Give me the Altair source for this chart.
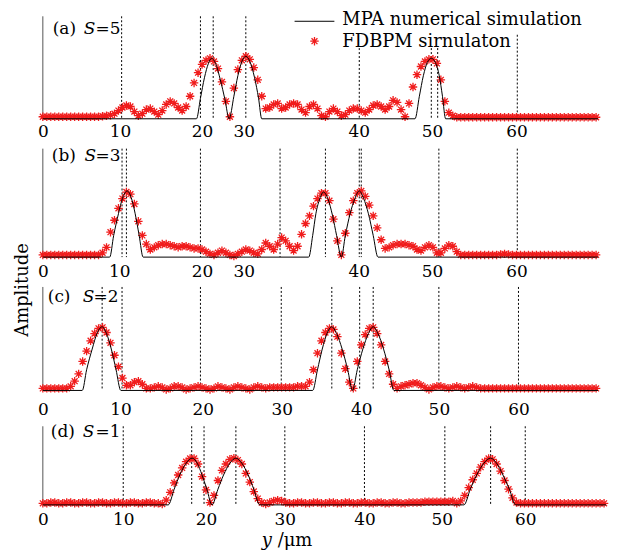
import altair as alt
import pandas as pd

FONT = "DejaVu Serif"
RED = "#f01c1c"
STAR = "M-1,0L1,0M0,-1L0,1M-0.7,-0.7L0.7,0.7M-0.7,0.7L0.7,-0.7"
STEP = 0.5  # sampling step of the FDBPM series (um)

TICK_LABELS = ["0", "10", "20", "30", "40", "50", "60"]

# ---------------- panel (a) S=5 ----------------
RED_A = [
    0.02, 0.02, 0.02, 0.02, 0.02, 0.02, 0.02, 0.02, 0.02, 0.02,
    0.02, 0.02, 0.02, 0.02, 0.02, 0.025, 0.03, 0.035, 0.05, 0.08,
    0.11, 0.13, 0.12, 0.07, 0.03, 0.05, 0.09, 0.10, 0.07, 0.04,
    0.08, 0.14, 0.17, 0.15, 0.11, 0.08, 0.12, 0.22, 0.35, 0.45,
    0.53, 0.57, 0.59, 0.56, 0.49, 0.36, 0.17, 0.02, 0.30, 0.48,
    0.57, 0.61, 0.58, 0.50, 0.38, 0.22, 0.10, 0.11, 0.14, 0.15,
    0.10, 0.11, 0.14, 0.15, 0.14, 0.09, 0.06, 0.12, 0.14, 0.10,
    0.03, 0.02, 0.07, 0.10, 0.07, 0.03, 0.04, 0.08, 0.10, 0.10,
    0.08, 0.06, 0.09, 0.13, 0.14, 0.12, 0.09, 0.12, 0.18, 0.16,
    0.09, 0.02, 0.15, 0.31, 0.43, 0.51, 0.56, 0.58, 0.58, 0.54,
    0.38, 0.17, 0.06, 0.03, 0.015, 0.015, 0.015, 0.015, 0.015, 0.015,
    0.015, 0.015, 0.015, 0.015, 0.015, 0.015, 0.015, 0.015, 0.015, 0.015,
    0.015, 0.015, 0.015, 0.015, 0.015, 0.015, 0.015, 0.015, 0.015, 0.015,
    0.015, 0.015, 0.015, 0.015, 0.015, 0.015, 0.015, 0.015, 0.015, 0.015,
]
BLACK_A_X = [0, 19.3, 19.8, 20.3, 20.8, 21.2, 21.7, 22.3, 22.9, 23.4, 24.0, 24.5, 25.0, 25.5,
             26.0, 26.6, 27.1, 27.5, 46.75, 47.3, 47.8, 48.3, 48.8, 49.3, 49.8, 50.2, 50.6, 69.75]
BLACK_A_Y = [0, 0, 0.2, 0.4, 0.54, 0.59, 0.54, 0.38, 0.18, 0, 0.22, 0.42, 0.56, 0.61,
             0.56, 0.40, 0.2, 0, 0, 0.22, 0.42, 0.55, 0.59, 0.55, 0.42, 0.22, 0, 0]
DASH_A_X = [9.9, 19.8, 21.4, 25.5, 39.75, 48.8, 49.6, 59.6]
DASH_A_TOP = [1, 1, 1, 1, 0.69, 0.69, 0.69, 0.82]
TICKS_A = [0, 9.7, 20, 25.25, 39.7, 48.9, 59.5]

# ---------------- panel (b) S=3 ----------------
RED_B = [
    0.02, 0.02, 0.02, 0.02, 0.02, 0.02, 0.02, 0.02, 0.02, 0.02,
    0.02, 0.02, 0.02, 0.02, 0.02, 0.04, 0.09, 0.23, 0.34, 0.45,
    0.54, 0.60, 0.58, 0.49, 0.33, 0.20, 0.12, 0.07, 0.09, 0.11,
    0.12, 0.12, 0.11, 0.10, 0.09, 0.10, 0.10, 0.09, 0.08, 0.08,
    0.07, 0.05, 0.03, 0.02, 0.04, 0.06, 0.04, 0.02, 0.01, 0.03,
    0.05, 0.07, 0.06, 0.04, 0.03, 0.07, 0.13, 0.10, 0.07, 0.12,
    0.18, 0.15, 0.10, 0.06, 0.10, 0.21, 0.31, 0.38, 0.47, 0.54,
    0.59, 0.59, 0.52, 0.35, 0.15, 0.02, 0.22, 0.41, 0.52, 0.59,
    0.61, 0.56, 0.48, 0.38, 0.27, 0.16, 0.08, 0.09, 0.11, 0.12,
    0.12, 0.12, 0.11, 0.10, 0.07, 0.06, 0.09, 0.11, 0.09, 0.04,
    0.04, 0.08, 0.11, 0.10, 0.05, 0.02, 0.02, 0.02, 0.02, 0.02,
    0.02, 0.02, 0.02, 0.02, 0.02, 0.025, 0.03, 0.025, 0.02, 0.02,
    0.02, 0.02, 0.02, 0.02, 0.02, 0.02, 0.02, 0.02, 0.02, 0.02,
    0.02, 0.02, 0.02, 0.02, 0.02, 0.02, 0.02, 0.02, 0.02, 0.02,
]
BLACK_B_X = [0, 8.4, 8.9, 9.5, 10.0, 10.6, 11.1, 11.6, 12.1, 12.6, 33.4, 33.9, 34.3, 34.8,
             35.25, 35.8, 36.4, 36.9, 37.5, 38.0, 38.6, 39.2, 39.75, 40.3, 40.9, 41.5, 42.1, 69.75]
BLACK_B_Y = [0, 0, 0.2, 0.4, 0.54, 0.61, 0.55, 0.4, 0.2, 0, 0, 0.2, 0.4, 0.54,
             0.6, 0.54, 0.38, 0.2, 0, 0.2, 0.4, 0.54, 0.61, 0.54, 0.4, 0.2, 0, 0]
DASH_B_X = [9.95, 10.5, 19.8, 29.8, 35.5, 39.75, 40.0, 49.75, 59.6]
DASH_B_TOP = [1, 1, 1, 1, 1, 1, 1, 1, 1]
TICKS_B = [0, 9.6, 20, 25.25, 39.7, 48.9, 59.5]

# ---------------- panel (c) S=2 ----------------
RED_C = [
    0.02, 0.02, 0.02, 0.02, 0.02, 0.02, 0.02, 0.04, 0.09, 0.16,
    0.28, 0.38, 0.48, 0.55, 0.60, 0.61, 0.56, 0.46, 0.34, 0.23,
    0.12, 0.05, 0.05, 0.08, 0.09, 0.06, 0.02, 0.02, 0.03, 0.04,
    0.03, 0.01, 0.02, 0.04, 0.04, 0.03, 0.01, 0.02, 0.03, 0.04,
    0.03, 0.02, 0.01, 0.02, 0.04, 0.03, 0.02, 0.01, 0.03, 0.04,
    0.03, 0.02, 0.01, 0.03, 0.04, 0.03, 0.02, 0.03, 0.03, 0.03,
    0.03, 0.03, 0.03, 0.03, 0.04, 0.04, 0.04, 0.08, 0.20, 0.36,
    0.48, 0.56, 0.60, 0.59, 0.52, 0.36, 0.21, 0.08, 0.02, 0.28,
    0.44, 0.54, 0.60, 0.61, 0.55, 0.44, 0.28, 0.16, 0.06, 0.02,
    0.04, 0.05, 0.06, 0.07, 0.07, 0.05, 0.03, 0.01, 0.03, 0.04,
    0.04, 0.03, 0.02, 0.03, 0.04, 0.03, 0.02, 0.03, 0.04, 0.03,
    0.02, 0.02, 0.02, 0.02, 0.02, 0.02, 0.02, 0.02, 0.02, 0.02,
    0.02, 0.02, 0.02, 0.02, 0.02, 0.02, 0.02, 0.02, 0.02, 0.02,
    0.02, 0.02, 0.02, 0.02, 0.02, 0.02, 0.02, 0.02, 0.02, 0.02,
]
BLACK_C_X = [0, 4.95, 5.5, 6.2, 6.8, 7.45, 8.0, 8.6, 9.2, 9.8, 33.9, 34.5, 35.1, 35.7,
             36.3, 36.9, 37.6, 38.3, 38.9, 39.5, 40.2, 40.9, 41.5, 42.1, 42.8, 43.5, 44.1, 69.75]
BLACK_C_Y = [0, 0, 0.2, 0.4, 0.55, 0.615, 0.55, 0.4, 0.2, 0, 0, 0.2, 0.4, 0.55,
             0.615, 0.55, 0.4, 0.2, 0, 0.2, 0.4, 0.55, 0.615, 0.55, 0.4, 0.2, 0, 0]
DASH_C_X = [7.45, 9.95, 19.8, 29.95, 36.3, 39.8, 41.5, 49.75, 59.75]
DASH_C_TOP = [1, 1, 1, 1, 1, 1, 1, 1, 1]
TICKS_C = [0, 9.75, 20.1, 30, 40, 49.75, 59.75]

# ---------------- panel (d) S=1 ----------------
RED_D = [
    0.02, 0.02, 0.03, 0.03, 0.02, 0.02, 0.03, 0.03, 0.02, 0.02,
    0.03, 0.03, 0.02, 0.02, 0.03, 0.03, 0.02, 0.02, 0.03, 0.03,
    0.02, 0.02, 0.03, 0.03, 0.02, 0.02, 0.03, 0.03, 0.02, 0.02,
    0.01, 0.06, 0.16, 0.28, 0.38, 0.47, 0.55, 0.59, 0.59, 0.52,
    0.36, 0.19, 0.03, 0.12, 0.31, 0.44, 0.52, 0.58, 0.595, 0.57,
    0.52, 0.40, 0.29, 0.17, 0.08, 0.03, 0.01, 0.03, 0.05, 0.06,
    0.05, 0.03, 0.02, 0.02, 0.03, 0.03, 0.02, 0.02, 0.03, 0.03,
    0.02, 0.02, 0.03, 0.03, 0.02, 0.02, 0.03, 0.03, 0.02, 0.02,
    0.03, 0.03, 0.02, 0.02, 0.03, 0.03, 0.02, 0.02, 0.03, 0.03,
    0.02, 0.02, 0.03, 0.03, 0.03, 0.03, 0.04, 0.04, 0.04, 0.04,
    0.04, 0.04, 0.04, 0.05, 0.02, 0.05, 0.12, 0.22, 0.32, 0.40,
    0.48, 0.55, 0.59, 0.58, 0.52, 0.43, 0.31, 0.20, 0.09, 0.03,
    0.02, 0.02, 0.02, 0.02, 0.02, 0.02, 0.02, 0.02, 0.02, 0.02,
    0.02, 0.02, 0.02, 0.02, 0.02, 0.02, 0.02, 0.02, 0.02, 0.02,
    0.02, 0.02,
]
BLACK_D_X = [0, 15.75, 16.5, 17.2, 18.0, 18.75, 19.4, 20.0, 20.6, 21.25, 22.0, 22.7, 23.5, 24.25,
             25.0, 25.8, 26.5, 27.25, 52.9, 53.7, 54.5, 55.4, 56.25, 57.0, 57.8, 58.6, 59.4, 70.75]
BLACK_D_Y = [0, 0, 0.2, 0.38, 0.53, 0.595, 0.53, 0.38, 0.2, 0, 0.2, 0.38, 0.53, 0.595,
             0.53, 0.38, 0.2, 0, 0, 0.2, 0.38, 0.53, 0.595, 0.53, 0.38, 0.2, 0, 0]
DASH_D_X = [10.1, 18.7, 20.25, 24.25, 30.4, 40.4, 50.5, 56.25, 60.6]
DASH_D_TOP = [1, 1, 1, 1, 1, 1, 1, 1, 1]
TICKS_D = [0, 10.1, 20.5, 30.4, 40.4, 50.1, 60.6]

W = 568
X_DOMAIN = [0, 71]
MARK_SIZE = 72
MARK_STROKE = 1.3


def txt(s, x, y, size=17, style="normal", angle=0, align="left", baseline="alphabetic"):
    return alt.Chart(pd.DataFrame({"t": [s]})).mark_text(
        font=FONT, fontSize=size, fontStyle=style, angle=angle,
        align=align, baseline=baseline, color="black"
    ).encode(x=alt.value(x), y=alt.value(y), text="t:N")


def panel(red, bx, by, dx, dtop, ticks, h, ydom, pad, tag, sval, tagpos, extra):
    expr = "[" + ",".join("'%s'" % t for t in TICK_LABELS) + "][indexof([" + \
        ",".join(str(v) for v in ticks) + "], datum.value)]"
    xaxis = alt.Axis(values=ticks, labelExpr=expr, grid=False, domain=False, ticks=False,
                     labelFont=FONT, labelFontSize=17, labelColor="black",
                     labelPadding=pad, labelFlush=False, labelOverlap=False, title="")
    X = alt.X("x:Q", scale=alt.Scale(domain=X_DOMAIN, nice=False, zero=False), axis=xaxis)

    def Y(f):
        return alt.Y(f + ":Q", scale=alt.Scale(domain=ydom, nice=False, zero=True),
                     axis=alt.Axis(labels=False, ticks=False, grid=False, domain=False, title=""))

    red_df = pd.DataFrame({"x": [i * STEP for i in range(len(red))], "amp": red})
    blk_df = pd.DataFrame({"x": bx, "amp": by})
    dash_df = pd.DataFrame({"x": dx, "top": dtop, "b0": [0] * len(dx)})
    frame_df = pd.DataFrame({"x": [0], "top": [1.0], "b0": [0]})

    frame = alt.Chart(frame_df).mark_rule(color="#555555", strokeWidth=1).encode(
        x=X, y=Y("top"), y2="b0:Q")
    dashes = alt.Chart(dash_df).mark_rule(color="black", strokeWidth=1, strokeDash=[2, 2]).encode(
        x=X, y=Y("top"), y2="b0:Q")
    reds = alt.Chart(red_df).mark_point(shape=STAR, filled=False, color=RED, size=MARK_SIZE,
                                        strokeWidth=MARK_STROKE, opacity=1).encode(x=X, y=Y("amp"))
    black = alt.Chart(blk_df).mark_line(color="black", strokeWidth=1, interpolate="monotone").encode(
        x=X, y=Y("amp"))
    tx, sx, ex, ty = tagpos
    labels = [txt(tag, tx, ty), txt("S", sx, ty, style="italic"), txt("=" + sval, ex, ty)]
    return alt.layer(frame, dashes, reds, black, *labels, *extra).properties(width=W, height=h)


legend = [
    alt.Chart(pd.DataFrame({"t": [0]})).mark_rule(color="black", strokeWidth=1).encode(
        x=alt.value(253), x2=alt.value(293), y=alt.value(5)),
    alt.Chart(pd.DataFrame({"t": [0]})).mark_point(shape=STAR, filled=False, color=RED,
                                                   size=MARK_SIZE, strokeWidth=MARK_STROKE,
                                                   opacity=1).encode(
        x=alt.value(273), y=alt.value(25)),
    txt("MPA numerical simulation", 301, 9, size=18),
    txt("FDBPM sirnulaton", 301, 31, size=18),
]
ylabel = [txt("Amplitude", -20, 3, size=18, angle=270, align="center", baseline="middle")]
xlabel = [txt("y", 220, 126, size=18, style="italic"), txt("/μm", 236, 126, size=18)]

pa = panel(RED_A, BLACK_A_X, BLACK_A_Y, DASH_A_X, DASH_A_TOP, TICKS_A, 103, [0, 1], 5,
           "(a)", "5", (10, 41, 53, 18), legend)
pb = panel(RED_B, BLACK_B_X, BLACK_B_Y, DASH_B_X, DASH_B_TOP, TICKS_B, 109, [0, 1], 6,
           "(b)", "3", (9, 42, 53, 12), [])
pc = panel(RED_C, BLACK_C_X, BLACK_C_Y, DASH_C_X, DASH_C_TOP, TICKS_C, 104, [0, 1], 11,
           "(c)", "2", (5, 40, 51, 15), ylabel)
pd_ = panel(RED_D, BLACK_D_X, BLACK_D_Y, DASH_D_X, DASH_D_TOP, TICKS_D, 85, [0, 85 / 79], 7,
            "(d)", "1", (8, 40, 53, 17), xlabel)

chart = alt.vconcat(pa, pb, pc, pd_, spacing=30, bounds="flush").properties(
    padding={"left": 5, "right": 5, "top": 2, "bottom": 0}
).configure_view(stroke=None)

chart.save("out.html", embed_options={"renderer": "svg", "actions": False})
